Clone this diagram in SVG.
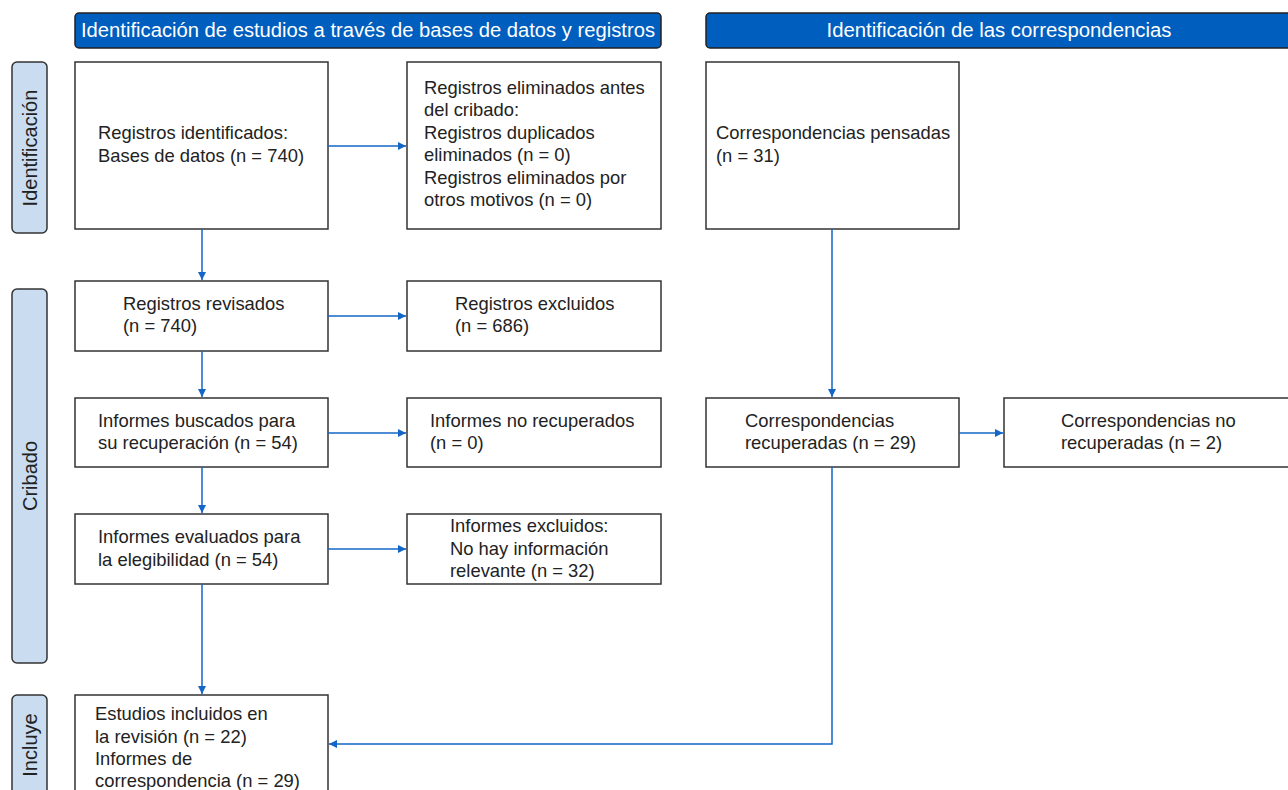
<svg xmlns="http://www.w3.org/2000/svg" width="1288" height="790" viewBox="0 0 1288 790">
<style>
.hdr{fill:#005EBE;stroke:#222;stroke-width:1.5}
.hdrt{fill:#fff;font-family:"Liberation Sans",Arial,sans-serif;font-size:19.5px;text-anchor:middle}
.side{fill:#C9DCF0;stroke:#333;stroke-width:1.5}
.sidet{fill:#222;font-family:"Liberation Sans",Arial,sans-serif;font-size:20px;text-anchor:middle}
.box{fill:#fff;stroke:#333;stroke-width:1.5}
.t{fill:#222;font-family:"Liberation Sans",Arial,sans-serif;font-size:18.4px}
.c{fill:none;stroke:#1366C6;stroke-width:1.5}
</style>
<defs>
<marker id="ah" viewBox="0 0 10 10" refX="10" refY="5" markerWidth="8" markerHeight="8" markerUnits="userSpaceOnUse" orient="auto">
<path d="M0,0 L10,5 L0,10 z" fill="#1366C6"/>
</marker>
</defs>
<rect width="1288" height="790" fill="#fff"/>
<g id="header1"><rect class="hdr" x="75" y="13" width="586" height="35" rx="4"/><text class="hdrt" x="368" y="37" textLength="574" lengthAdjust="spacingAndGlyphs">Identificación de estudios a través de bases de datos y registros</text></g>
<g id="header2"><rect class="hdr" x="706" y="13" width="590" height="35" rx="4"/><text class="hdrt" x="999" y="37" textLength="345" lengthAdjust="spacingAndGlyphs">Identificación de las correspondencias</text></g>
<g id="side1"><rect class="side" x="12" y="62" width="35" height="171" rx="5"/><text class="sidet" transform="translate(37,148) rotate(-90)">Identificación</text></g>
<g id="side2"><rect class="side" x="12" y="289" width="35" height="374" rx="5"/><text class="sidet" transform="translate(37,476) rotate(-90)">Cribado</text></g>
<g id="side3"><rect class="side" x="12" y="695" width="35" height="110" rx="5"/><text class="sidet" transform="translate(37,745) rotate(-90)">Incluye</text></g>
<g id="A"><rect class="box" x="75" y="62" width="253" height="167"/><text class="t" x="98" y="139">Registros identificados:</text><text class="t" x="98" y="162">Bases de datos (n = 740)</text></g>
<g id="B"><rect class="box" x="407" y="62" width="254" height="167"/><text class="t" x="424" y="94">Registros eliminados antes</text><text class="t" x="424" y="116">del cribado:</text><text class="t" x="424" y="139">Registros duplicados</text><text class="t" x="424" y="161">eliminados (n = 0)</text><text class="t" x="424" y="184">Registros eliminados por</text><text class="t" x="424" y="206">otros motivos (n = 0)</text></g>
<g id="C"><rect class="box" x="706" y="62" width="253" height="167"/><text class="t" x="716" y="139">Correspondencias pensadas</text><text class="t" x="716" y="162">(n = 31)</text></g>
<g id="D"><rect class="box" x="75" y="281" width="253" height="70"/><text class="t" x="123" y="310">Registros revisados</text><text class="t" x="123" y="332">(n = 740)</text></g>
<g id="E"><rect class="box" x="407" y="281" width="254" height="70"/><text class="t" x="455" y="310">Registros excluidos</text><text class="t" x="455" y="332">(n = 686)</text></g>
<g id="F"><rect class="box" x="75" y="398" width="253" height="69"/><text class="t" x="98" y="427">Informes buscados para</text><text class="t" x="98" y="449">su recuperación (n = 54)</text></g>
<g id="G"><rect class="box" x="407" y="398" width="254" height="69"/><text class="t" x="430" y="427">Informes no recuperados</text><text class="t" x="430" y="449">(n = 0)</text></g>
<g id="H"><rect class="box" x="706" y="398" width="253" height="69"/><text class="t" x="745" y="427">Correspondencias</text><text class="t" x="745" y="449">recuperadas (n = 29)</text></g>
<g id="I"><rect class="box" x="1004" y="398" width="290" height="69"/><text class="t" x="1061" y="427">Correspondencias no</text><text class="t" x="1061" y="449">recuperadas (n = 2)</text></g>
<g id="J"><rect class="box" x="75" y="514" width="253" height="70"/><text class="t" x="98" y="543">Informes evaluados para</text><text class="t" x="98" y="566">la elegibilidad (n = 54)</text></g>
<g id="K"><rect class="box" x="407" y="514" width="254" height="70"/><text class="t" x="450" y="532">Informes excluidos:</text><text class="t" x="450" y="555">No hay información</text><text class="t" x="450" y="577">relevante (n = 32)</text></g>
<g id="L"><rect class="box" x="75" y="695" width="253" height="110"/><text class="t" x="95" y="720">Estudios incluidos en</text><text class="t" x="95" y="743">la revisión (n = 22)</text><text class="t" x="95" y="765">Informes de</text><text class="t" x="95" y="787">correspondencia (n = 29)</text></g>
<g id="connectors">
<path class="c" d="M328,146 H406" marker-end="url(#ah)"/>
<path class="c" d="M202,229 V280" marker-end="url(#ah)"/>
<path class="c" d="M328,316 H406" marker-end="url(#ah)"/>
<path class="c" d="M202,351 V397" marker-end="url(#ah)"/>
<path class="c" d="M328,433 H406" marker-end="url(#ah)"/>
<path class="c" d="M202,467 V513" marker-end="url(#ah)"/>
<path class="c" d="M328,549 H406" marker-end="url(#ah)"/>
<path class="c" d="M202,584 V694" marker-end="url(#ah)"/>
<path class="c" d="M832,229 V397" marker-end="url(#ah)"/>
<path class="c" d="M959,433 H1003" marker-end="url(#ah)"/>
<path class="c" d="M832,467 V744 H329" marker-end="url(#ah)"/>
</g>
</svg>
